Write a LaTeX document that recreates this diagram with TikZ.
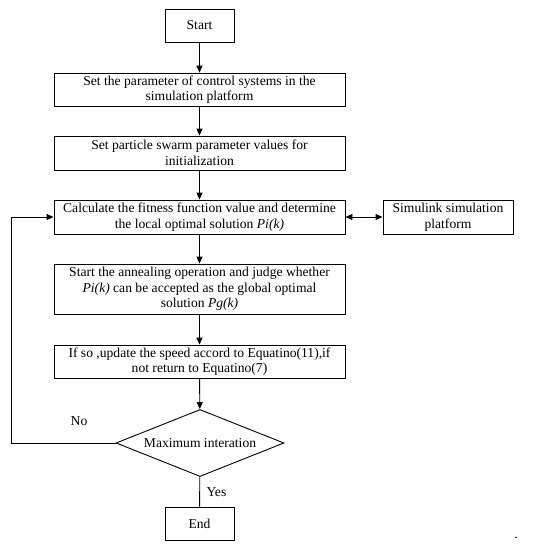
\documentclass[tikz,border=0pt]{standalone}
\usepackage{fontspec}
\setmainfont{Liberation Serif}
\usetikzlibrary{shapes.geometric,arrows.meta}
\begin{document}
\begin{tikzpicture}[x=1pt,y=-1pt,
  every node/.style={font=\fontsize{13.6}{15.5}\selectfont},
  box/.style={draw,line width=0.9pt,rectangle,inner sep=0pt,align=center,minimum width=291pt},
  small/.style={draw,line width=0.9pt,rectangle,inner sep=0pt,align=center,minimum width=69pt,minimum height=33pt},
  dec/.style={draw,line width=0.9pt,diamond,aspect=2.5,inner sep=0pt,minimum width=168pt,minimum height=67pt},
  arr/.style={line width=0.9pt,-{Triangle[length=7pt,width=6pt]}},
  link/.style={line width=0.9pt}]
\useasboundingbox (0,0) rectangle (537,550);
\node[small] (start) at (199.5,25.5) {Start};
\node[box,minimum height=33pt] (b2) at (199.5,89.5) {Set the parameter of control systems in the\\simulation platform};
\node[box,minimum height=34pt] (b3) at (199.5,153) {Set particle swarm parameter values for\\initialization};
\node[box,minimum height=34pt] (b4) at (199.5,217) {Calculate the fitness function value and determine\\the local optimal solution \textit{Pi(k)}};
\node[draw,line width=0.9pt,rectangle,inner sep=0pt,align=center,minimum width=130pt,minimum height=34pt] (sim) at (448,217) {Simulink simulation\\platform};
\node[box,minimum height=50pt] (b5) at (199.5,289) {Start the annealing operation and judge whether\\\textit{Pi(k)} can be accepted as the global optimal\\solution \textit{Pg(k)}};
\node[box,minimum height=33pt] (b6) at (199.5,361.5) {If so ,update the speed accord to Equatino(11),if\\not return to Equatino(7)};
\node[dec] (dia) at (200,443) {Maximum interation};
\node[small] (end) at (199.5,523.5) {End};
\coordinate (c1) at (11,443);
\coordinate (c2) at (11,217);
\node (no) at (79,421) {No};
\node[anchor=west] (yes) at (203,492) {Yes};
\node (dot) at (516,538) {.};
\draw[arr] (start) -- (b2);
\draw[arr] (b2) -- (b3);
\draw[arr] (b3) -- (b4);
\draw[arr] (b4) -- (b5);
\draw[arr] (b5) -- (b6);
\draw[arr] (b6) -- (dia);
\draw[link] (dia) -- (end);
\draw[line width=0.9pt,{Triangle[length=7pt,width=6pt]}-{Triangle[length=7pt,width=6pt]}] (b4) -- (sim);
\draw[arr] (dia.west) -- (c1) -- (c2) -- (b4.west);
\end{tikzpicture}
\end{document}
